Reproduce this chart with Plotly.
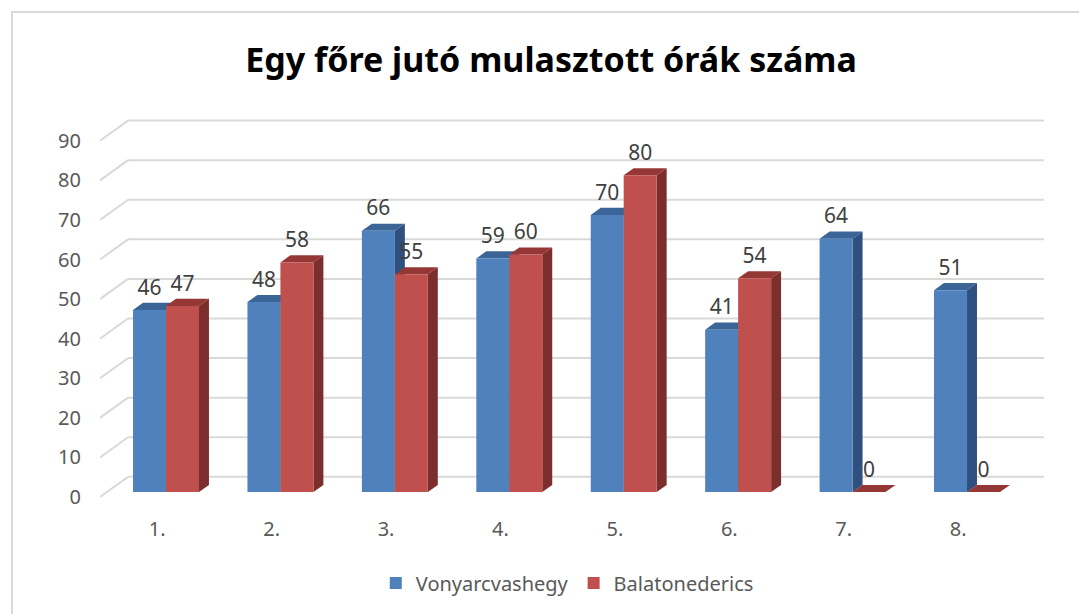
import plotly.graph_objects as go

# Chart data
categories = ["1.", "2.", "3.", "4.", "5.", "6.", "7.", "8."]
vonyarcvashegy = [46, 48, 66, 59, 70, 41, 64, 51]
balatonederics = [47, 58, 55, 60, 80, 54, 0, 0]
y_ticks = [0, 10, 20, 30, 40, 50, 60, 70, 80, 90]

series = [
    ("Vonyarcvashegy", vonyarcvashegy, "#4F81BD", "#3B6497", "#2F4F7E", -0.067),
    ("Balatonederics", balatonederics, "#C0504D", "#953735", "#7C2E2C", 0.221),
]

# pseudo-3D geometry (axis units)
BAR_W = 0.2885      # front face width
BASE = 1.26         # floor height of the bar fronts
DEPTH_X = 0.087     # bar depth, horizontal
DEPTH_Y = 1.8       # bar depth, vertical
WALL_X = 0.245      # back wall shift, horizontal
WALL_Y = 5.1        # back wall shift, vertical
X_MIN, X_MAX = -0.5, 7.75
GRID = "#D9D9D9"

xs = list(range(len(categories)))
shapes = []

# back wall and side wall gridlines
for v in y_ticks:
    shapes.append(dict(type="line", xref="x", yref="y", layer="below",
                       x0=X_MIN + WALL_X, x1=X_MAX, y0=v + WALL_Y, y1=v + WALL_Y,
                       line=dict(color=GRID, width=2)))
    shapes.append(dict(type="line", xref="x", yref="y", layer="below",
                       x0=X_MIN, x1=X_MIN + WALL_X, y0=v, y1=v + WALL_Y,
                       line=dict(color=GRID, width=2)))

fig = go.Figure()

for name, vals, front, top, side, off in series:
    centers = [x + off for x in xs]
    fig.add_trace(go.Bar(
        x=centers, y=vals, base=BASE, width=BAR_W, name=name,
        marker=dict(color=front, line=dict(width=0)),
        hoverinfo="skip",
    ))
    for c, v in zip(centers, vals):
        x0, x1 = c - BAR_W / 2, c + BAR_W / 2
        yt = BASE + v
        # top face
        shapes.append(dict(
            type="path", xref="x", yref="y", layer="below",
            path=f"M{x0},{yt} L{x1},{yt} L{x1 + DEPTH_X},{yt + DEPTH_Y} "
                 f"L{x0 + DEPTH_X},{yt + DEPTH_Y} Z",
            fillcolor=top, line=dict(width=0)))
        # right side face
        if v > 0:
            shapes.append(dict(
                type="path", xref="x", yref="y", layer="below",
                path=f"M{x1},{BASE} L{x1 + DEPTH_X},{BASE + DEPTH_Y} "
                     f"L{x1 + DEPTH_X},{yt + DEPTH_Y} L{x1},{yt} Z",
                fillcolor=side, line=dict(width=0)))

# data labels above each bar
for name, vals, front, top, side, off in series:
    fig.add_trace(go.Scatter(
        x=[x + off for x in xs], y=[BASE + v + 5.2 for v in vals],
        mode="text", text=[str(v) for v in vals],
        textfont=dict(family="Noto Sans", size=21, color="#404040"),
        showlegend=False, hoverinfo="skip",
    ))

# outer chart border
shapes.append(dict(type="path", xref="paper", yref="paper", layer="below",
                   path="M-0.0932,-0.4 L-0.0932,1.2816 L1.1,1.2816",
                   line=dict(color="#D9D9D9", width=2)))

fig.update_layout(
    width=1079, height=614,
    margin=dict(l=100, r=35, t=119, b=115),
    paper_bgcolor="white", plot_bgcolor="white",
    barmode="overlay",
    shapes=shapes,
    title=dict(text="<b>Egy főre jutó mulasztott órák száma</b>",
               x=0.5107, xanchor="center", y=0.902, yanchor="middle",
               font=dict(family="Noto Sans", size=34, color="#000000")),
    xaxis=dict(range=[X_MIN, X_MAX], tickvals=xs, ticktext=categories,
               showgrid=False, zeroline=False, showline=False, ticks="",
               ticklabelstandoff=16,
               tickfont=dict(family="Noto Sans", size=20, color="#595959")),
    yaxis=dict(range=[-0.5, 95.5], tickvals=y_ticks,
               showgrid=False, zeroline=False, showline=False, ticks="",
               ticklabelstandoff=18,
               tickfont=dict(family="Noto Sans", size=20, color="#595959")),
    legend=dict(orientation="h", x=0.495, xanchor="center", y=-0.221,
                yanchor="middle", traceorder="normal",
                font=dict(family="Noto Sans", size=20, color="#595959")),
    showlegend=True,
)

fig.write_html("out.html")
